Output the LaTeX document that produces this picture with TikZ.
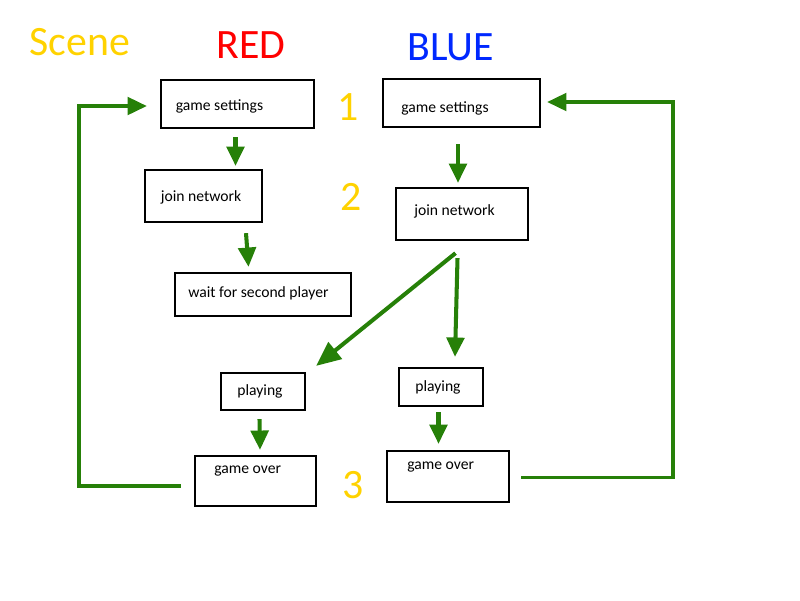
\documentclass[tikz,border=0pt]{standalone}
\usepackage{fontspec}
\setmainfont{Carlito}
\usetikzlibrary{arrows.meta}
\usetikzlibrary{calc}
\usetikzlibrary{fit}
\definecolor{flowgreen}{RGB}{38,128,8}
\definecolor{scenegold}{RGB}{255,210,0}
\definecolor{titleblue}{RGB}{0,40,255}

\begin{document}
\begin{tikzpicture}[x=0.02cm, y=-0.02cm,
    box/.style={draw, line width=1.3pt, inner sep=0pt},
    txt/.style={anchor=west, inner sep=0pt, font=\fontsize{8.9}{10}\selectfont},
    big/.style={inner sep=0pt, font=\fontsize{23.8}{28}\selectfont},
    flow/.style={draw=flowgreen, line width=2.3pt, -{Triangle[length=11pt, width=10pt]}},
    backflow/.style={flow, line width=2pt}]
    \useasboundingbox (0,0) rectangle (800,600);

    % titles
    \node[big, anchor=base west, scenegold] (scene) at (29,55) {Scene};
    \node[big, anchor=base west, red] (redtitle) at (216,58) {RED};
    \node[big, anchor=base west, titleblue] (bluetitle) at (407,60) {BLUE};
    \node[big, scenegold] (n1) at (348.5,107) {1};
    \node[big, scenegold] (n2) at (351,197) {2};
    \node[big, scenegold] (n3) at (353,485) {3};

    % red side
    \node[box, fit={(161,80) (314,128)}] (rset) {};
    \node[txt] (rsettxt) at (175.5,106) {game settings};
    \node[box, fit={(145,170) (262,222)}] (rjoin) {};
    \node[txt] (rjointxt) at (160.5,197.5) {join network};
    \node[box, fit={(175,273) (351,316)}] (rwait) {};
    \node[txt] (rwaittxt) at (188,293) {wait for second player};
    \node[box, fit={(221,373) (305,410)}] (rplay) {};
    \node[txt] (rplaytxt) at (237,391.5) {playing};
    \node[box, fit={(195,456) (316,506)}] (rover) {};
    \node[txt] (rovertxt) at (214,471.5) {game over};

    % blue side
    \node[box, fit={(383,79) (540,127)}] (bset) {};
    \node[txt] (bsettxt) at (401,108.5) {game settings};
    \node[box, fit={(396,188) (528,240)}] (bjoin) {};
    \node[txt] (bjointxt) at (414,211.5) {join network};
    \node[box, fit={(399,368) (483,406)}] (bplay) {};
    \node[txt] (bplaytxt) at (415,387.5) {playing};
    \node[box, fit={(387,451) (509,502)}] (bover) {};
    \node[txt] (bovertxt) at (407,467.5) {game over};

    \coordinate (leftrail) at (79,300);
    \coordinate (rightrail) at (673,300);

    % arrows
    \draw[flow] ($(rset.south)+(-2,8)$) -- ($(rjoin.north)+(32,-3)$);
    \draw[flow] ($(rjoin.south)+(42.5,10)$) -- ($(rwait.north)+(-14.5,-5)$);
    \draw[flow] ($(bset.south)+(-3.5,16)$) -- ($(bjoin.north)+(-4,-4)$);
    \draw[flow, -{Triangle[length=14pt, width=12pt]}] ($(bjoin.south)+(-6.5,12)$) -- ($(rplay.north east)+(10,-6)$);
    \draw[flow] ($(bjoin.south)+(-4.5,17)$) -- ($(bplay.north)+(14,-10)$);
    \draw[flow] ($(rplay.south)+(-3.5,8)$) -- ($(rover.north)+(4.5,-5)$);
    \draw[flow] ($(bplay.south)+(-2.5,5)$) -- ($(bover.north)+(-9.5,-6)$);

    % back to the start
    \draw[backflow] ($(rover.west)+(-13,5)$) -| (leftrail) |- ($(rset.west)+(-13,2)$);
    \draw[backflow] ($(bover.east)+(11,1)$) -| (rightrail) |- ($(bset.east)+(6,-1)$);
\end{tikzpicture}
\end{document}
